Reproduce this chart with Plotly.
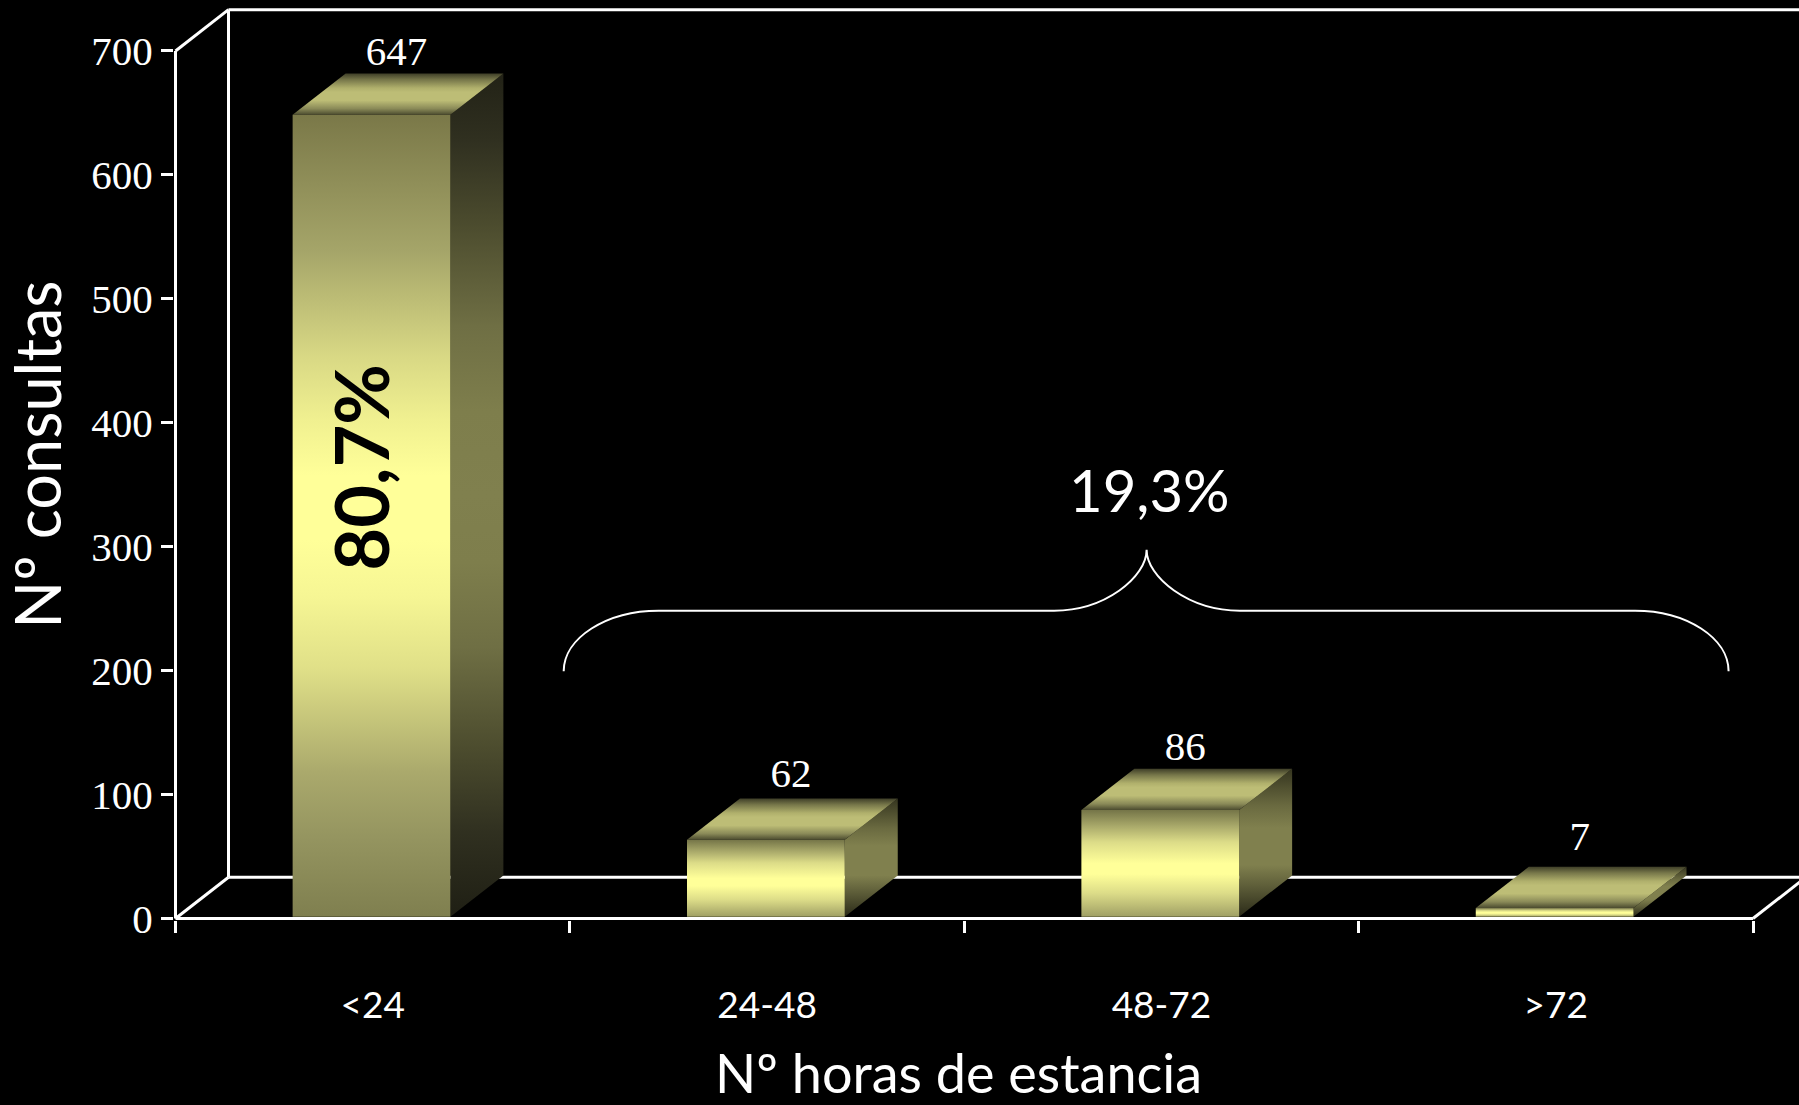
import plotly.graph_objects as go

# Chart data
categories = ["<24", "24-48", "48-72", ">72"]
consultas = [647, 62, 86, 7]
y_ticks = [0, 100, 200, 300, 400, 500, 600, 700]

WIDTH, HEIGHT = 1799, 1105
# Pixel positions of the front axes; the plot area runs wider so that the
# 3D frame and the axis strokes are not clipped.
LEFT, RIGHT, TOP, BOTTOM = 175.5, 1753.0, 51.0, 919.0
PLOT_LEFT, PLOT_BOTTOM = 174.0, 920.5

PX_X = (RIGHT - LEFT) / len(categories)
PX_Y = (BOTTOM - TOP) / y_ticks[-1]


def dx(px):
    return px / PX_X


def dy(px):
    return px / PX_Y


def to_x(px):
    return (px - LEFT) / PX_X


def to_y(px):
    return (BOTTOM - px) / PX_Y


DEPTH_X = dx(53)
DEPTH_Y = dy(41.3)
BAR_WIDTH = 0.4
BAR_OFFSET = 0.297
BAR_BASE = dy(1.8)

# Gradient stops from the bottom of a face to its top
FRONT_TALL = [[0, "#7f7f4f"], [0.1, "#959560"], [0.18, "#aaa96c"], [0.31, "#e0e088"], [0.4, "#f6f694"],
              [0.47, "#ffff99"], [0.55, "#ffff99"], [0.62, "#f0f090"],
              [0.7, "#d8d884"], [0.83, "#a5a569"], [1, "#7a7848"]]
SIDE_TALL = [[0, "#1f1f14"], [0.1, "#303020"], [0.2, "#4c4c2e"], [0.32, "#6f6f44"], [0.42, "#7e7e4c"],
             [0.5, "#80804e"], [0.6, "#7e7e4c"], [0.7, "#6f6f44"], [0.82, "#4c4c2e"], [0.92, "#303020"],
             [1, "#222216"]]
FRONT_SHORT = [[0, "#a0a065"], [0.22, "#dcdc88"], [0.4, "#ffff99"], [0.5, "#ffff99"], [0.7, "#dcdc88"],
               [0.85, "#a9a96a"], [1, "#757548"]]
SIDE_SHORT = [[0, "#2a2a18"], [0.2, "#5c5c38"], [0.35, "#80804e"], [0.6, "#80804e"], [0.75, "#6a6a40"],
              [1, "#35351f"]]
TOP_FACE = [[0, "#4a4a2e"], [0.15, "#8a8a58"], [0.35, "#bdbd76"], [0.55, "#bdbd76"], [0.65, "#b0b06c"],
            [0.85, "#77774a"], [1, "#3f3f28"]]

LINE = dict(color="white", width=3)
STROKE = 3

fig = go.Figure()


def wall(xs, ys):
    fig.add_trace(go.Scatter(x=xs, y=ys, mode="lines", line=LINE,
                             hoverinfo="skip", showlegend=False))


# Back wall, floor and front axis lines of the 3D frame
x_end = len(categories)
y_end = y_ticks[-1]
wall([0, DEPTH_X], [y_end, y_end + DEPTH_Y])
wall([DEPTH_X, x_end + DEPTH_X], [y_end + DEPTH_Y, y_end + DEPTH_Y])
wall([DEPTH_X, DEPTH_X], [y_end + DEPTH_Y, DEPTH_Y])
wall([0, DEPTH_X], [0, DEPTH_Y])
wall([DEPTH_X, x_end + DEPTH_X], [DEPTH_Y, DEPTH_Y])
wall([x_end, x_end + DEPTH_X], [0, DEPTH_Y])
wall([0, x_end], [0, 0])
wall([0, 0], [0, y_end])


def face(xs, ys, stops, low, high):
    fig.add_trace(go.Scatter(
        x=xs, y=ys, mode="lines", line=dict(width=0), fill="toself",
        fillgradient=dict(type="vertical", colorscale=stops, start=low, stop=high),
        hoverinfo="skip", showlegend=False))


# Each bar is built from its value: right side, top, then front face
for i, value in enumerate(consultas):
    x0 = i + BAR_OFFSET
    x1 = x0 + BAR_WIDTH
    y0 = BAR_BASE
    y1 = BAR_BASE + value
    tall = value > 300

    face([x1, x1 + DEPTH_X, x1 + DEPTH_X, x1, x1],
         [y0, y0 + DEPTH_Y, y1 + DEPTH_Y, y1, y0],
         SIDE_TALL if tall else SIDE_SHORT, y0, y1 + DEPTH_Y)
    face([x0, x1, x1 + DEPTH_X, x0 + DEPTH_X, x0],
         [y1, y1, y1 + DEPTH_Y, y1 + DEPTH_Y, y1],
         TOP_FACE, y1, y1 + DEPTH_Y)
    face([x0, x1, x1, x0, x0],
         [y0, y0, y1, y1, y0],
         FRONT_TALL if tall else FRONT_SHORT, y0, y1)

# Value labels above each bar, each with its own small lift in pixels
label_lift = [-2.0, 1.4, -1.0, 7.0]
fig.add_trace(go.Scatter(
    x=[i + BAR_OFFSET + BAR_WIDTH / 2 + DEPTH_X / 2 - dx(1.5) for i in range(len(consultas))],
    y=[BAR_BASE + v + DEPTH_Y + dy(lift) for v, lift in zip(consultas, label_lift)],
    mode="text", text=[str(v) for v in consultas], textposition="top center",
    textfont=dict(family="Liberation Serif", size=41, color="white"),
    cliponaxis=False, hoverinfo="skip", showlegend=False))

# Brace spanning the three shorter stays
bl, fl, fr, peak, gl, gr, br = 563.7, 658.6, 1054, 1146.6, 1240, 1635, 1728.6
by, fy, py = 671.7, 611, 550
k = 0.55


def pt(x, y):
    return f"{to_x(x):.4f},{to_y(y):.3f}"


brace = (
    f"M {pt(bl, by)} C {pt(bl, by - k * (by - fy))} {pt(fl - k * (fl - bl), fy)} {pt(fl, fy)} "
    f"L {pt(fr, fy)} C {pt(fr + k * (peak - fr), fy)} {pt(peak, fy - k * (fy - py))} {pt(peak, py)} "
    f"C {pt(peak, fy - k * (fy - py))} {pt(gl - k * (gl - peak), fy)} {pt(gl, fy)} "
    f"L {pt(gr, fy)} C {pt(gr + k * (br - gr), fy)} {pt(br, by - k * (by - fy))} {pt(br, by)}"
)
fig.add_shape(type="path", path=brace, xref="x", yref="y", line=dict(color="white", width=2))

SANS = "Lato"


def note(text, px, py_, size, color="white", angle=0, bold=False):
    # Free-standing texts are placed in paper fractions of the plot area
    fig.add_annotation(
        x=(px - PLOT_LEFT) / (WIDTH - PLOT_LEFT), y=(PLOT_BOTTOM - py_) / PLOT_BOTTOM,
        xref="paper", yref="paper", text=f"<b>{text}</b>" if bold else text,
        showarrow=False, textangle=angle, xanchor="center", yanchor="middle",
        font=dict(family=SANS, size=size, color=color))


note("Nº horas de estancia", 958, 1073, 54)
note("Nº consultas", 37, 455, 63, angle=-90)
note("19,3%", 1149, 490, 58)
note("80,7%", 361, 468, 74, color="black", angle=-90, bold=True)

fig.update_layout(
    width=WIDTH, height=HEIGHT,
    margin=dict(l=PLOT_LEFT, r=0, t=0, b=HEIGHT - PLOT_BOTTOM, pad=0, autoexpand=False),
    paper_bgcolor="black", plot_bgcolor="black", showlegend=False,
    xaxis=dict(
        range=[to_x(PLOT_LEFT), to_x(WIDTH)], showgrid=False, zeroline=False, showline=False,
        tickmode="array", tickvals=[i + 0.5 for i in range(len(categories))], ticktext=categories,
        ticks="", ticklabelstandoff=60,
        tickfont=dict(family=SANS, size=37, color="white"),
        minor=dict(tickmode="array", tickvals=list(range(len(categories) + 1)), ticks="outside",
                   ticklen=12, tickwidth=STROKE, tickcolor="white", showgrid=False),
    ),
    yaxis=dict(
        range=[to_y(PLOT_BOTTOM), to_y(0)], showgrid=False, zeroline=False, showline=False,
        tickmode="array", tickvals=y_ticks, ticks="outside", ticklen=12, tickwidth=STROKE,
        tickcolor="white",
        tickfont=dict(family="Liberation Serif", size=41, color="white"),
    ),
)

fig.write_html("out.html", config=dict(displayModeBar=False))
